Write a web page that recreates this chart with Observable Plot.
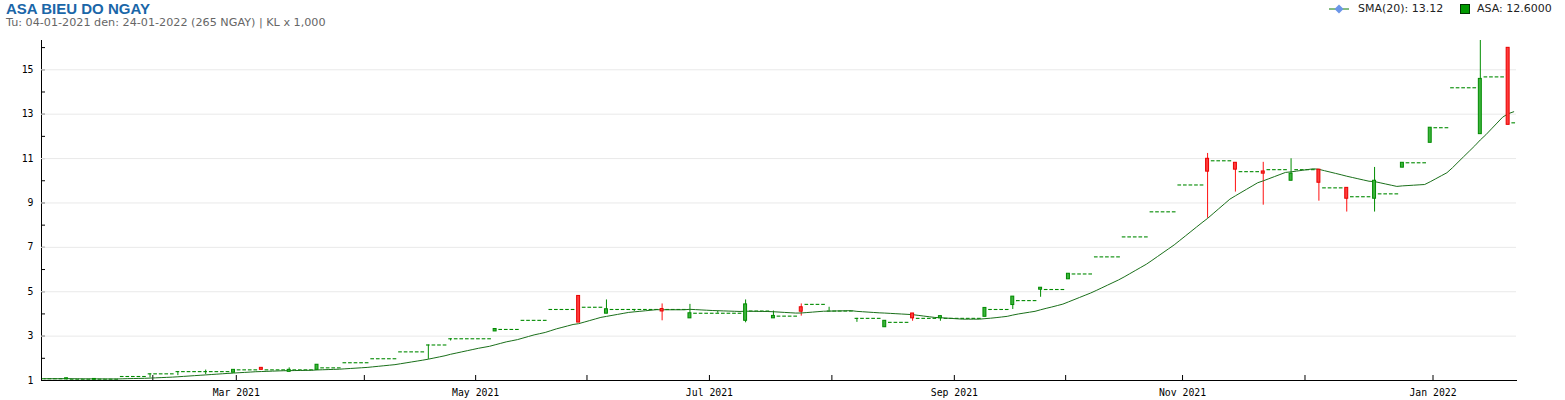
<!DOCTYPE html>
<html><head><meta charset="utf-8">
<script src="https://cdn.jsdelivr.net/npm/d3@7"></script>
<script src="https://cdn.jsdelivr.net/npm/@observablehq/plot@0.6"></script>
<style>
body{margin:0;background:#fff;}
#wrap{position:relative;width:1565px;height:400px;overflow:hidden;}
#title{position:absolute;left:6px;top:0px;font:bold 15px "Liberation Sans",Arial,sans-serif;color:#1a66a8;white-space:nowrap;}
#sub{position:absolute;left:6px;top:16px;font:11.2px "DejaVu Sans",sans-serif;color:#666;white-space:nowrap;}
.lg{position:absolute;top:2px;font:11px "DejaVu Sans",sans-serif;color:#222;white-space:nowrap;}
#chart{position:absolute;left:0;top:0;}
</style></head>
<body><div id="wrap">
<div id="chart"></div>
<div id="title">ASA BIEU DO NGAY</div>
<div id="sub">Tu: 04-01-2021 den: 24-01-2022 (265 NGAY) | KL x 1,000</div>
<svg class="lg" style="left:1329px;top:3px" width="20" height="12"><line x1="0" y1="6" x2="20" y2="6" stroke="#0a7a0a"/><polygon points="10,1.5 14.5,6 10,10.5 5.5,6" fill="#6b96e8"/></svg>
<div class="lg" style="left:1358px">SMA(20): 13.12</div>
<div class="lg" style="left:1460px;top:4px;width:8px;height:8px;background:#009900;border:1px solid #003300"></div>
<div class="lg" style="left:1477px">ASA: 12.6000</div>
</div>
<script>
// Daily closes (thousand VND), trading-day index 0 = 04-01-2021 ... 264 = 24-01-2022
const closes = [
 1.08,1.08,1.08,1.08,1.1,
 1.06,1.06,1.06,1.06,1.07,
 1.06,1.06,1.06,1.06,1.18,
 1.18,1.18,1.18,1.18,1.3,
 1.3,1.3,1.3,1.3,1.4,
 1.4,1.4,1.4,1.4,1.4,
 1.4,1.4,1.4,1.4,1.48,
 1.48,1.48,1.48,1.48,1.48,
 1.48,1.48,1.48,1.48,1.48,
 1.48,1.48,1.48,1.48,1.71,
 1.57,1.57,1.57,1.57,1.8,
 1.8,1.8,1.8,1.8,1.98,
 1.98,1.98,1.98,1.98,2.29,
 2.29,2.29,2.29,2.29,2.6,
 2.6,2.6,2.6,2.88,2.88,
 2.88,2.88,2.88,2.88,2.88,
 2.88,3.32,3.3,3.3,3.3,
 3.3,3.71,3.71,3.71,3.71,
 3.71,4.2,4.2,4.2,4.2,
 4.2,3.61,4.3,4.3,4.3,
 4.3,4.21,4.2,4.2,4.2,
 4.2,4.2,4.2,4.2,4.2,
 4.2,4.11,4.2,4.2,4.2,
 4.2,4.03,4.03,4.03,4.03,
 4.03,4.03,4.03,4.03,4.03,
 4.03,4.43,4.13,4.13,4.13,
 4.13,3.91,3.9,3.9,3.9,
 3.9,4.1,4.43,4.43,4.43,
 4.43,4.13,4.13,4.13,4.13,
 4.13,3.8,3.8,3.8,3.8,
 3.8,3.69,3.62,3.62,3.62,
 3.62,3.8,3.8,3.8,3.8,
 3.8,3.9,3.8,3.8,3.8,
 3.8,3.8,3.8,3.8,4.27,
 4.2,4.2,4.2,4.2,4.78,
 4.6,4.6,4.6,4.6,5.18,
 5.1,5.1,5.1,5.1,5.81,
 5.8,5.8,5.8,5.8,6.57,
 6.57,6.57,6.57,6.57,7.47,
 7.47,7.47,7.47,7.47,8.6,
 8.6,8.6,8.6,8.6,9.81,
 9.81,9.81,9.81,9.81,10.41,
 10.9,10.9,10.9,10.9,10.5,
 10.41,10.41,10.41,10.41,10.32,
 10.5,10.5,10.5,10.5,10.32,
 10.5,10.5,10.5,10.5,9.91,
 9.68,9.68,9.68,9.68,9.19,
 9.28,9.28,9.28,9.28,10.0,
 9.41,9.41,9.41,9.41,10.81,
 10.81,10.81,10.81,10.81,12.39,
 12.39,12.39,12.39,14.19,14.19,
 14.19,14.19,14.19,14.59,14.68,
 14.68,14.68,14.68,12.52,12.61
];
// Days that traded with a range (open / high / low); other days are flat at the close
const candleDay  = [4,9,19,24,29,34,39,44,49,69,73,81,96,101,106,111,116,121,126,131,136,141,146,151,156,161,169,174,179,184,209,214,219,224,229,234,239,244,249,258,263];
const candleOpen = [1.05,1.03,1.3,1.4,1.4,1.35,1.57,1.39,1.48,2.6,2.88,3.21,4.81,4.01,4.2,4.22,3.8,4.03,3.69,3.8,4.3,4.13,3.8,3.4,4.02,3.8,3.87,4.4,5.09,5.56,10.99,10.81,10.42,10.0,10.5,9.68,9.19,10.59,11.71,12.1,15.99];
const candleHigh = [1.1,1.07,1.3,1.4,1.47,1.48,1.57,1.57,1.71,2.6,2.88,3.32,4.81,4.63,4.2,4.45,4.43,4.13,4.63,4.13,4.45,4.3,3.8,3.69,4.02,3.9,4.27,4.78,5.18,5.81,11.23,10.81,10.83,10.99,10.5,9.68,10.6,10.81,12.39,16.32,15.99];
const candleLow  = [1.03,1.03,1.12,1.22,1.26,1.35,1.48,1.39,1.48,1.95,2.78,3.21,3.61,4.01,4.1,3.69,3.8,4.03,3.6,3.8,3.9,4.13,3.62,3.4,3.67,3.67,3.87,4.2,4.75,5.56,8.31,9.49,8.9,10.0,9.08,8.59,8.59,10.59,11.71,12.1,12.52];

// x axis: trading-day index of the first session of each month
const monthStartDay = [20,35,58,78,98,120,142,164,184,205,227,250];
const monthLabel    = ["","Mar 2021","","May 2021","","Jul 2021","","Sep 2021","","Nov 2021","","Jan 2022"];
const yTicks = [1,2,3,4,5,6,7,8,9,10,11,12,13,14,15,16];
const yGrid  = [3,5,7,9,11,13,15];

const days = closes.map((c, i) => ({i, open: c, high: c, low: c, close: c}));
candleDay.forEach((d, k) => {
  days[d].open = candleOpen[k];
  days[d].high = candleHigh[k];
  days[d].low = candleLow[k];
});
const up = d => d.close >= d.open;
const labelOf = new Map(monthStartDay.map((d, k) => [d, monthLabel[k]]));

const chart = Plot.plot({
  width: 1565, height: 400,
  marginLeft: 41, marginRight: 49, marginTop: 40, marginBottom: 20,
  style: {fontFamily: "DejaVu Sans Mono, monospace", fontSize: "9.8px", color: "#000", background: "transparent"},
  x: {type: "linear", domain: [0, 265], ticks: monthStartDay, tickSize: -5, tickPadding: 14,
      tickFormat: d => labelOf.get(d) ?? "", line: true, label: null},
  y: {domain: [1, 16.32], ticks: yTicks, tickSize: -4, tickPadding: 12,
      tickFormat: d => d % 2 === 1 ? String(d) : "", line: true, label: null},
  marks: [
    Plot.ruleY(yGrid, {stroke: "#e9e9e9"}),
    Plot.ruleX(days.filter(d => d.high > d.low), {
      x: d => d.i + 0.5, y1: "low", y2: "high",
      stroke: d => up(d) ? "#008c00" : "#ff1010"
    }),
    Plot.ruleY(days.filter(d => d.open === d.close), {
      y: "close", x1: "i", x2: d => d.i + 1, insetLeft: 0.95, insetRight: 0.95,
      stroke: "#008a00", strokeWidth: 1.1
    }),
    Plot.line(days, Plot.windowY({k: 20, anchor: "end", reduce: "mean"}, {
      x: d => d.i + 0.5, y: "close", stroke: "#1a6f1a", strokeWidth: 1
    })),
    Plot.rect(days.filter(d => d.open !== d.close), {
      x1: "i", x2: d => d.i + 1, y1: "open", y2: "close", insetLeft: 1.3, insetRight: 1.3,
      fill: d => up(d) ? "#3cb43c" : "#ff3c3c",
      stroke: d => up(d) ? "#008a00" : "#e80000", strokeWidth: 1
    })
  ]
});
document.getElementById("chart").appendChild(chart);
</script>
</body></html>
